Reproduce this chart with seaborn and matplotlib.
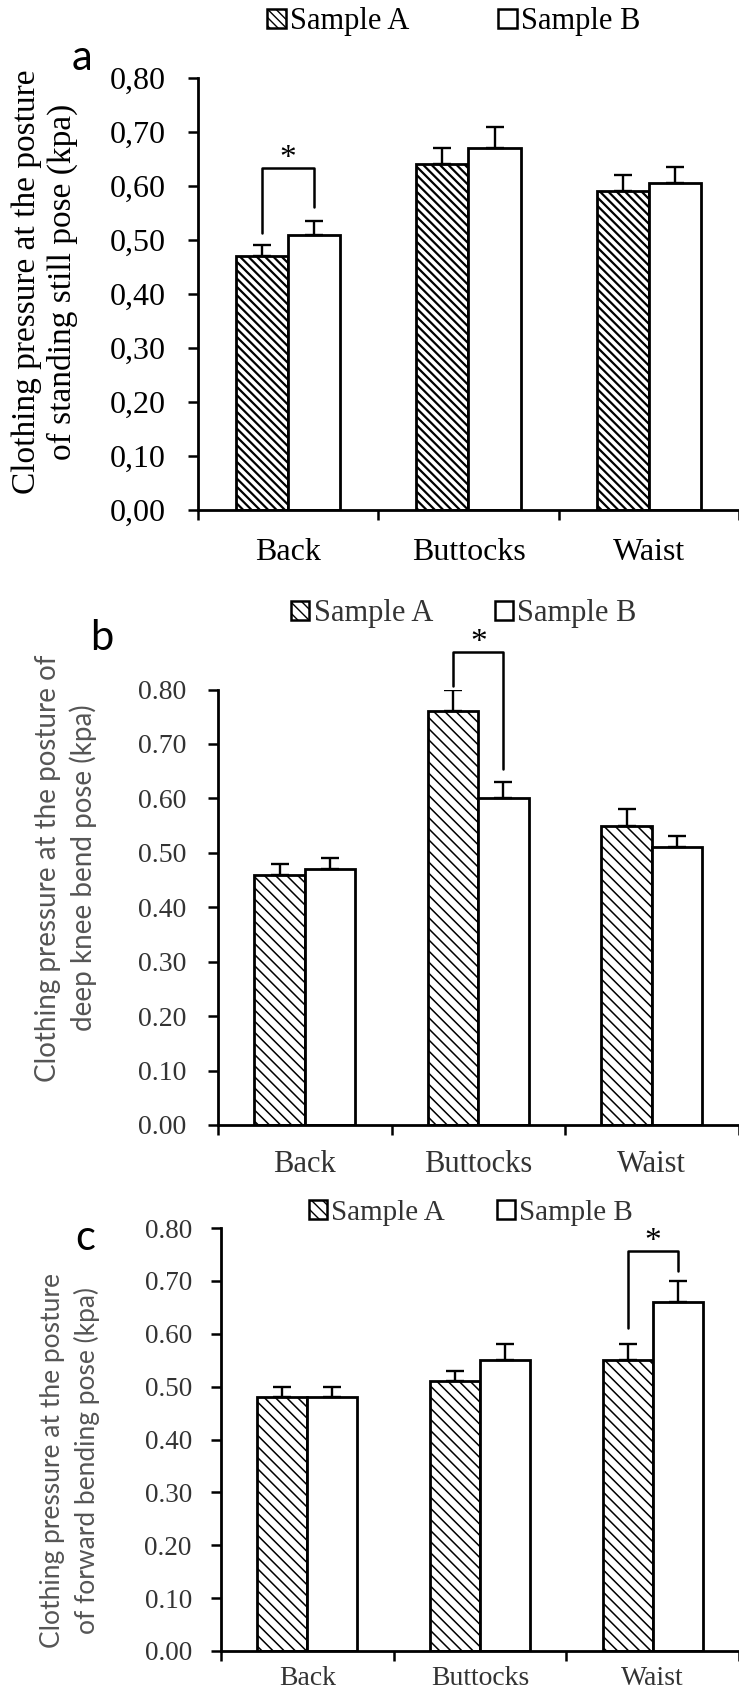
import numpy as np
import pandas as pd
import matplotlib
matplotlib.use("Agg")
import matplotlib.pyplot as plt
import seaborn as sns

# ---------------- data ----------------
regions = ["Back", "Buttocks", "Waist"]
samples = ["Sample A", "Sample B"]

# (a) standing still pose
a_mean_A = [0.47, 0.64, 0.59]
a_mean_B = [0.51, 0.67, 0.605]
a_err_A = [0.02, 0.03, 0.03]
a_err_B = [0.025, 0.04, 0.03]

# (b) deep knee bend pose
b_mean_A = [0.46, 0.76, 0.55]
b_mean_B = [0.47, 0.60, 0.51]
b_err_A = [0.02, 0.04, 0.03]
b_err_B = [0.02, 0.03, 0.02]

# (c) forward bending pose
c_mean_A = [0.48, 0.51, 0.55]
c_mean_B = [0.48, 0.55, 0.66]
c_err_A = [0.02, 0.02, 0.03]
c_err_B = [0.02, 0.03, 0.04]

yticks = [0.0, 0.1, 0.2, 0.3, 0.4, 0.5, 0.6, 0.7, 0.8]
a_ytick_labels = ["0,00", "0,10", "0,20", "0,30", "0,40", "0,50", "0,60", "0,70", "0,80"]
bc_ytick_labels = ["0.00", "0.10", "0.20", "0.30", "0.40", "0.50", "0.60", "0.70", "0.80"]

a_ylabel = "Clothing pressure at the posture\nof standing still pose (kpa)"
b_ylabel = "Clothing pressure at the posture of\ndeep knee bend pose (kpa)"
c_ylabel = "Clothing pressure at the posture\nof forward bending pose (kpa)"

# significance brackets: (region index, bracket top, left foot, right foot)
a_sig = (0, 0.633, 0.513, 0.561)
b_sig = (1, 0.869, 0.806, 0.654)
c_sig = (2, 0.757, 0.611, 0.719)

# ---------------- style ----------------
sns.set_theme(style="white")
SERIF = ["Liberation Serif", "DejaVu Serif"]
SANS = ["Lato", "DejaVu Sans"]
plt.rcParams["font.family"] = SERIF
plt.rcParams["axes.linewidth"] = 2.0

W, H = 739, 1695
fig = plt.figure(figsize=(W / 100, H / 100), dpi=100)


def panel(rect, xmax, mA, mB, eA, eB, sig, tlabels, ylabel, ylab_xy, ylab_font,
          ylab_size, ylab_ls, text_color, ylab_color, tick_size, xtick_size,
          ytick_pad, xtick_pad, hatch, hatch_lw, leg_xy, leg_size, colspace,
          letter, letter_xy):
    ax = fig.add_axes(rect)
    df = pd.DataFrame({
        "region": regions * 2,
        "sample": [samples[0]] * 3 + [samples[1]] * 3,
        "value": list(mA) + list(mB),
    })
    with plt.rc_context({"hatch.linewidth": hatch_lw, "hatch.color": "black"}):
        sns.barplot(data=df, x="region", y="value", hue="sample", order=regions,
                    hue_order=samples, palette=["white", "white"], saturation=1,
                    edgecolor="black", linewidth=2.0, width=0.58, errorbar=None,
                    legend=False, ax=ax)
        for p in ax.containers[0]:
            p.set_hatch(hatch)
            try:
                p.set_hatch_linewidth(hatch_lw)
            except AttributeError:
                pass
    # error bars (upper only)
    for cont, err in zip(ax.containers[:2], [eA, eB]):
        xs = [p.get_x() + p.get_width() / 2 for p in cont]
        ys = [p.get_height() for p in cont]
        ax.errorbar(xs, ys, yerr=[np.zeros(len(err)), err], fmt="none",
                    ecolor="black", elinewidth=1.7, capsize=6.5, capthick=1.7,
                    zorder=4)
    # significance bracket
    i, top, lf, rf = sig
    pa = ax.containers[0][i]
    pb = ax.containers[1][i]
    xl = pa.get_x() + pa.get_width() / 2
    xr = pb.get_x() + pb.get_width() / 2
    ax.plot([xl, xl, xr, xr], [lf, top, top, rf], color="black", lw=1.8,
            clip_on=False, zorder=5)
    ax.text((xl + xr) / 2, top + 0.002, "*", ha="center", va="baseline",
            fontsize=24, color="black", family=SERIF, clip_on=False)

    ax.set_ylim(0, 0.8)
    ax.set_xlim(-0.5, xmax)
    ax.set_yticks(yticks)
    ax.set_yticklabels(tlabels, fontsize=tick_size, color=text_color, family=SERIF)
    ax.set_xticks([0, 1, 2])
    ax.set_xticklabels(regions, fontsize=xtick_size, color=text_color, family=SERIF)
    ax.set_xticks([-0.5, 0.5, 1.5, 2.5], minor=True)
    ax.tick_params(axis="x", which="major", length=0, pad=xtick_pad)
    ax.tick_params(axis="x", which="minor", length=7, width=1.8, direction="out",
                   color="black", bottom=True)
    ax.tick_params(axis="y", which="major", length=7, width=1.8, direction="out",
                   color="black", pad=ytick_pad, left=True)
    ax.set_xlabel("")
    ax.set_ylabel("")
    for s in ["top", "right"]:
        ax.spines[s].set_visible(False)
    for s in ["left", "bottom"]:
        ax.spines[s].set_color("black")
        ax.spines[s].set_linewidth(2.0)

    fig.text(ylab_xy[0] / W, 1 - ylab_xy[1] / H, ylabel, rotation=90,
             ha="center", va="center", multialignment="center",
             fontsize=ylab_size, color=ylab_color, family=ylab_font,
             linespacing=ylab_ls)

    leg = ax.legend(handles=[ax.containers[0], ax.containers[1]], labels=samples,
                    loc="center", bbox_to_anchor=(leg_xy[0] / W, 1 - leg_xy[1] / H),
                    bbox_transform=fig.transFigure, ncol=2, frameon=False,
                    handlelength=0.6, handleheight=0.6, handletextpad=0.15,
                    columnspacing=colspace, borderaxespad=0,
                    prop={"family": SERIF, "size": leg_size})
    for t in leg.get_texts():
        t.set_color(text_color)
    for h in leg.legend_handles:
        h.set_linewidth(1.8)

    fig.text(letter_xy[0] / W, 1 - letter_xy[1] / H, letter, ha="center",
             va="center", fontsize=30, family=SANS, color="black")
    return ax


# panel a
panel([198 / W, 1 - 510 / H, (W - 198) / W, 432 / H], -0.5 + 541 / 182,
      a_mean_A, a_mean_B, a_err_A, a_err_B, a_sig, a_ytick_labels, a_ylabel,
      (45, 282), SERIF, 24, 1.2, "black", "black", 23, 23, 16, 20,
      "\\\\\\\\", 1.6, (454, 22), 22, 2.9, "a", (82, 58))

# panel b
panel([218 / W, 1 - 1125 / H, (W - 218) / W, 435.5 / H], -0.5 + 521 / 173.5,
      b_mean_A, b_mean_B, b_err_A, b_err_B, b_sig, bc_ytick_labels, b_ylabel,
      (66, 868), SANS, 20, 1.4, "#333333", "#555555", 20, 22, 16, 18,
      "\\\\\\", 1.1, (464, 614), 22, 2.0, "b", (102, 638))

# panel c
panel([221 / W, 1 - 1651 / H, (W - 221) / W, 423 / H], -0.5 + 518 / 174.5,
      c_mean_A, c_mean_B, c_err_A, c_err_B, c_sig, bc_ytick_labels, c_ylabel,
      (70, 1460), SANS, 19, 1.4, "#333333", "#555555", 19.5, 20, 14, 11,
      "\\\\\\", 1.1, (471, 1213), 21, 1.8, "c", (85, 1238))

fig.savefig("out.png", dpi=100)
